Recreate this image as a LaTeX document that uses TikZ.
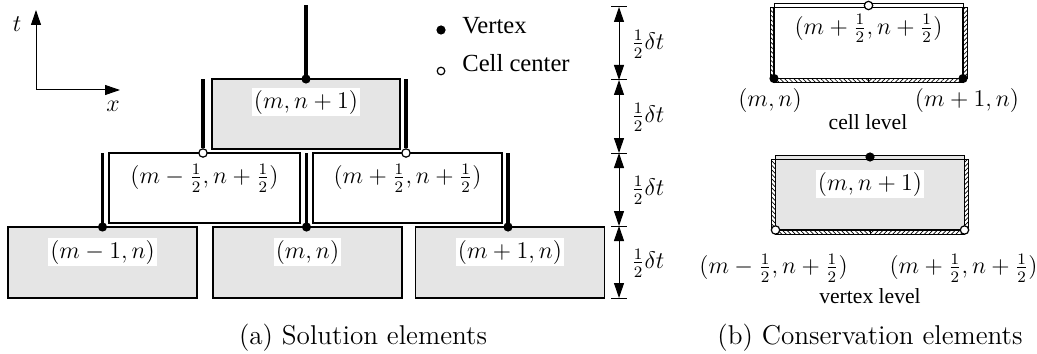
\documentclass[tikz,border=0pt]{standalone}
\usepackage{amsmath}
\usepackage{fontspec}
\newfontfamily\legendfont{Liberation Serif}
\usetikzlibrary{arrows.meta,patterns.meta}
\definecolor{cellgray}{gray}{0.9}

\begin{document}
\begin{tikzpicture}[x=0.5pt,y=-0.5pt,
  elembox/.style={draw, line width=0.8pt, inner sep=0pt, outer sep=0pt},
  cebox/.style={draw, line width=0.6pt, inner sep=0pt, outer sep=0pt,
    minimum width=94.5pt, minimum height=35.5pt},
  vdot/.style={circle, fill=black, inner sep=0pt, minimum size=4.6pt},
  cdot/.style={circle, draw=black, fill=white, line width=0.6pt, inner sep=0pt, minimum size=4.2pt},
  timebar/.style={line width=1.8pt},
  mlabel/.style={inner sep=1pt, font=\fontsize{12}{14}\selectfont},
  legendtext/.style={inner sep=0pt, font=\legendfont\fontsize{12.3}{14}\selectfont},
  leveltext/.style={inner sep=0pt, font=\legendfont\fontsize{10.8}{13}\selectfont},
  captiontext/.style={inner sep=0pt, font=\fontsize{13.6}{16}\selectfont},
  strip/.style={draw, line width=0.4pt},
  hatchNE/.style={strip, pattern={Lines[angle=45,distance=1.6pt,line width=0.35pt]}},
  hatchNW/.style={strip, pattern={Lines[angle=-45,distance=1.6pt,line width=0.35pt]}},
  axisarrow/.style={line width=0.5pt, -{Triangle[length=7.5pt,width=5pt]}},
  dimarrow/.style={line width=0.5pt, {Triangle[length=7.5pt,width=5pt]}-{Triangle[length=7.5pt,width=5pt]}},
]
\useasboundingbox (0,0) rectangle (1037,353);

% ---------- (a) solution elements ----------
% axes
\coordinate (origin) at (36,90);
\coordinate (tend) at (36,10);
\coordinate (xend) at (120,90);
\draw[axisarrow] (origin) -- (tend);
\draw[axisarrow] (origin) -- (xend);
\node[mlabel] (tlab) at (17,24) {$t$};
\node[mlabel] (xlab) at (113,106) {$x$};

% bottom row (time level n)
\node[elembox, fill=cellgray, minimum width=94.5pt, minimum height=35.5pt] (se1) at (102.5,262.5) {};
\node[elembox, fill=cellgray, minimum width=94.5pt, minimum height=35.5pt] (se2) at (307.5,262.5) {};
\node[elembox, fill=cellgray, minimum width=94.5pt, minimum height=35.5pt] (se3) at (510,262.5) {};
% middle row (time level n+1/2)
\node[elembox, fill=white, minimum width=95.5pt, minimum height=35pt] (sh1) at (204.5,188) {};
\node[elembox, fill=white, minimum width=94.5pt, minimum height=35pt] (sh2) at (407.5,188) {};
% top row (time level n+1)
\node[elembox, fill=cellgray, minimum width=94pt, minimum height=35pt] (st) at (306,114) {};

% labels
\node[mlabel, fill=white] (lse1) at ([yshift=-12.5pt]se1.north) {$(m-1,n)$};
\node[mlabel, fill=white] (lse2) at ([yshift=-12.5pt]se2.north) {$(m,n)$};
\node[mlabel, fill=white] (lse3) at ([yshift=-12.5pt]se3.north) {$(m+1,n)$};
\node[mlabel] (lsh1) at ([yshift=-12.5pt]sh1.north) {$(m-\tfrac{1}{2},n+\tfrac{1}{2})$};
\node[mlabel] (lsh2) at ([yshift=-12.5pt]sh2.north) {$(m+\tfrac{1}{2},n+\tfrac{1}{2})$};
\node[mlabel, fill=white] (lst) at ([yshift=-11.5pt]st.north) {$(m,n+1)$};

% solution points
\node[vdot] (v1) at (se1.north) {};
\node[vdot] (v2) at ([xshift=-0.5pt]se2.north) {};
\node[vdot] (v3) at ([xshift=-1pt]se3.north) {};
\node[cdot] (c1) at ([xshift=-0.75pt]sh1.north) {};
\node[cdot] (c2) at ([xshift=-0.75pt]sh2.north) {};
\node[vdot] (vt) at (st.north) {};

% time lines above each solution point
\coordinate (v1top) at (v1 |- sh1.north);
\coordinate (v2top) at (v2 |- sh1.north);
\coordinate (v3top) at (v3 |- sh1.north);
\coordinate (c1top) at (c1 |- st.north);
\coordinate (c2top) at (c2 |- st.north);
\coordinate (vttop) at (306,5);
\draw[timebar] (v1.center) -- (v1top);
\draw[timebar] (v2.center) -- (v2top);
\draw[timebar] (v3.center) -- (v3top);
\draw[timebar] (c1.north) -- (c1top);
\draw[timebar] (c2.north) -- (c2top);
\draw[timebar] (vt.center) -- (vttop);

% legend
\node[vdot] (legv) at (441,30) {};
\node[cdot, minimum size=3.8pt] (legc) at (441,71) {};
\node[legendtext, anchor=west] (legvt) at (462,26) {Vertex};
\node[legendtext, anchor=west] (legct) at (462,63) {Cell center};

% time step dimensions
\coordinate (d0) at (619,7);
\coordinate (d1) at (619,80);
\coordinate (d2) at (619,153);
\coordinate (d3) at (619,226);
\coordinate (d4) at (619,298);
\foreach \d in {d0,d1,d2,d3,d4}
  \draw[line width=0.5pt] ([xshift=-4pt]\d) -- ([xshift=4pt]\d);
\draw[dimarrow] (d0) -- (d1);
\draw[dimarrow] (d1) -- (d2);
\draw[dimarrow] (d2) -- (d3);
\draw[dimarrow] (d3) -- (d4);
\node[mlabel, anchor=west] (h1) at (629,44) {$\tfrac{1}{2}\delta t$};
\node[mlabel, anchor=west] (h2) at (629,117) {$\tfrac{1}{2}\delta t$};
\node[mlabel, anchor=west] (h3) at (629,190) {$\tfrac{1}{2}\delta t$};
\node[mlabel, anchor=west] (h4) at (629,263) {$\tfrac{1}{2}\delta t$};

\node[captiontext] (capa) at (363,338) {(a) Solution elements};

% ---------- (b) conservation elements ----------
% cell level
\node[cebox, fill=white] (ce1) at (868.5,43) {};
\draw[strip, fill=white] (ce1.north west) rectangle ([yshift=2pt]ce1.north east);
\draw[hatchNW] ([xshift=-2pt]ce1.south west) rectangle (ce1.north west);
\draw[hatchNE] (ce1.south east) rectangle ([xshift=2pt]ce1.north east);
\draw[hatchNW] ([yshift=-2pt]ce1.south west) rectangle (ce1.south);
\draw[hatchNE] ([yshift=-2pt]ce1.south) rectangle (ce1.south east);
\node[vdot] (cv1) at (ce1.south west) {};
\node[vdot] (cv2) at (ce1.south east) {};
\node[cdot] (cc) at ([yshift=1pt]ce1.north) {};
\node[mlabel] (lce1) at ([yshift=-10.5pt]ce1.north) {$(m+\tfrac{1}{2},n+\tfrac{1}{2})$};
\node[mlabel] (lcv1) at ([xshift=-2pt,yshift=-11pt]cv1) {$(m,n)$};
\node[mlabel] (lcv2) at ([xshift=2pt,yshift=-11pt]cv2) {$(m+1,n)$};
\node[leveltext] (cellev) at (868,122) {cell level};

% vertex level
\node[cebox, fill=cellgray] (ce2) at (870,194.5) {};
\draw[strip, fill=cellgray] (ce2.north west) rectangle ([yshift=2pt]ce2.north east);
\draw[hatchNW] ([xshift=-2pt]ce2.south west) rectangle (ce2.north west);
\draw[hatchNE] (ce2.south east) rectangle ([xshift=2pt]ce2.north east);
\draw[hatchNW] ([yshift=-2pt]ce2.south west) rectangle (ce2.south);
\draw[hatchNE] ([yshift=-2pt]ce2.south) rectangle (ce2.south east);
\node[vdot] (vv) at ([yshift=1pt]ce2.north) {};
\node[cdot] (vc1) at (ce2.south west) {};
\node[cdot] (vc2) at (ce2.south east) {};
\node[mlabel, fill=white] (lce2) at ([yshift=-12.5pt]ce2.north) {$(m,n+1)$};
\node[mlabel] (lvc1) at ([xshift=-1pt,yshift=-19pt]vc1) {$(m-\tfrac{1}{2},n+\tfrac{1}{2})$};
\node[mlabel] (lvc2) at ([xshift=-0.5pt,yshift=-19pt]vc2) {$(m+\tfrac{1}{2},n+\tfrac{1}{2})$};
\node[leveltext] (vertlev) at (870,296) {vertex level};

\node[captiontext] (capb) at (870,338) {(b) Conservation elements};
\end{tikzpicture}
\end{document}
